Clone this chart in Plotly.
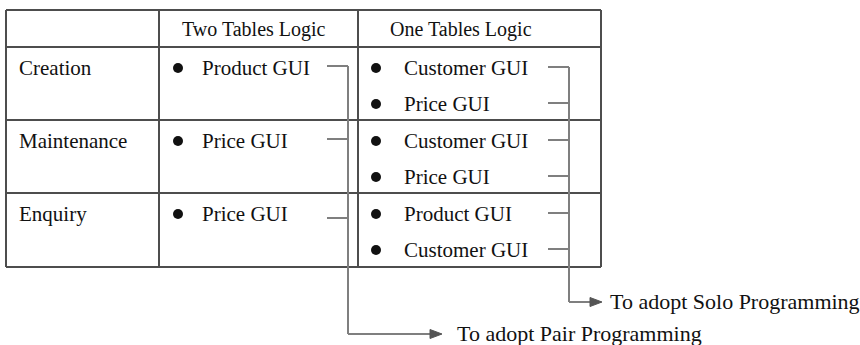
import plotly.graph_objects as go

# ---- content ----
col_headers = ["Two Tables Logic", "One Tables Logic"]
row_labels = ["Creation", "Maintenance", "Enquiry"]
two_tables_items = [["Product GUI"], ["Price GUI"], ["Price GUI"]]
one_table_items = [["Customer GUI", "Price GUI"],
                   ["Customer GUI", "Price GUI"],
                   ["Product GUI", "Customer GUI"]]
outcomes = ["To adopt Pair Programming", "To adopt Solo Programming"]

# ---- geometry (pixel space) ----
W, H = 860, 345
x_edges = [6, 159, 358, 601]
y_edges = [10, 47, 120, 193, 267]
FONT = "Liberation Serif, Times New Roman, serif"
GRID = "#4d4d4d"
BRK = "#7f7f7f"

fig = go.Figure()
shapes, annots = [], []

def line(x0, y0, x1, y1, color, w=2):
    shapes.append(dict(type="line", x0=x0, y0=y0, x1=x1, y1=y1, xref="x", yref="y",
                       line=dict(color=color, width=w)))

def text(x, y, s, size=21, anchor="left"):
    annots.append(dict(x=x, y=y, text=s, showarrow=False, xanchor=anchor, yanchor="middle",
                       xref="x", yref="y", font=dict(family=FONT, size=size, color="#111")))

# table grid
for y in y_edges:
    line(x_edges[0], y, x_edges[-1], y, GRID)
for x in x_edges:
    line(x, y_edges[0], x, y_edges[-1], GRID)

# headers
hdr_y = (y_edges[0] + y_edges[1]) / 2 + 1
text(x_edges[1] + 21, hdr_y, col_headers[0], 20)
text(x_edges[2] + 30, hdr_y, col_headers[1], 20)

bx, by = [], []
pair_dash_y, solo_dash_y = [], []
for i, lab in enumerate(row_labels):
    top = y_edges[i + 1]
    text(x_edges[0] + 11, top + 21, lab)
    for j, it in enumerate(two_tables_items[i]):
        yy = top + 21 + 36 * j
        bx.append(x_edges[1] + 19); by.append(yy)
        text(x_edges[1] + 41, yy, it)
        pair_dash_y.append(yy - 2 + (6 if i == 2 else 0))
    for j, it in enumerate(one_table_items[i]):
        yy = top + 21 + 36 * j
        bx.append(x_edges[2] + 18); by.append(yy)
        text(x_edges[2] + 44, yy, it)
        solo_dash_y.append(yy - 1)

fig.add_trace(go.Scatter(x=bx, y=by, mode="markers", hoverinfo="skip",
                         marker=dict(color="#111", size=10), showlegend=False))

# brackets
pair_x, solo_x = 348, 569
pair_end_y, solo_end_y = 334, 302
for yy in pair_dash_y:
    line(pair_x - 21, yy, pair_x, yy, BRK)
for yy in solo_dash_y:
    line(solo_x - 21, yy, solo_x, yy, BRK)
line(pair_x, pair_dash_y[0], pair_x, pair_end_y, BRK)
line(solo_x, solo_dash_y[0], solo_x, solo_end_y, BRK)

def arrow(x0, y, x1):
    line(x0, y, x1 - 10, y, BRK)
    shapes.append(dict(type="path", xref="x", yref="y",
                       path=f"M {x1-12},{y-4.5} L {x1},{y} L {x1-12},{y+4.5} Z",
                       fillcolor="#555", line=dict(color="#555", width=1)))

arrow(pair_x, pair_end_y, 442)
arrow(solo_x, solo_end_y, 602)
text(455, pair_end_y - 1, outcomes[0], 22)
text(608, solo_end_y - 1, outcomes[1], 22)

fig.update_layout(
    width=W, height=H, margin=dict(l=0, r=0, t=0, b=0),
    paper_bgcolor="white", plot_bgcolor="white",
    xaxis=dict(range=[0, W], visible=False, fixedrange=True),
    yaxis=dict(range=[H, 0], visible=False, fixedrange=True),
    shapes=shapes, annotations=annots, showlegend=False,
)
fig.write_html("out.html", config={"displayModeBar": False},
               post_script="document.body.style.margin='0';document.body.style.overflow='hidden';")
